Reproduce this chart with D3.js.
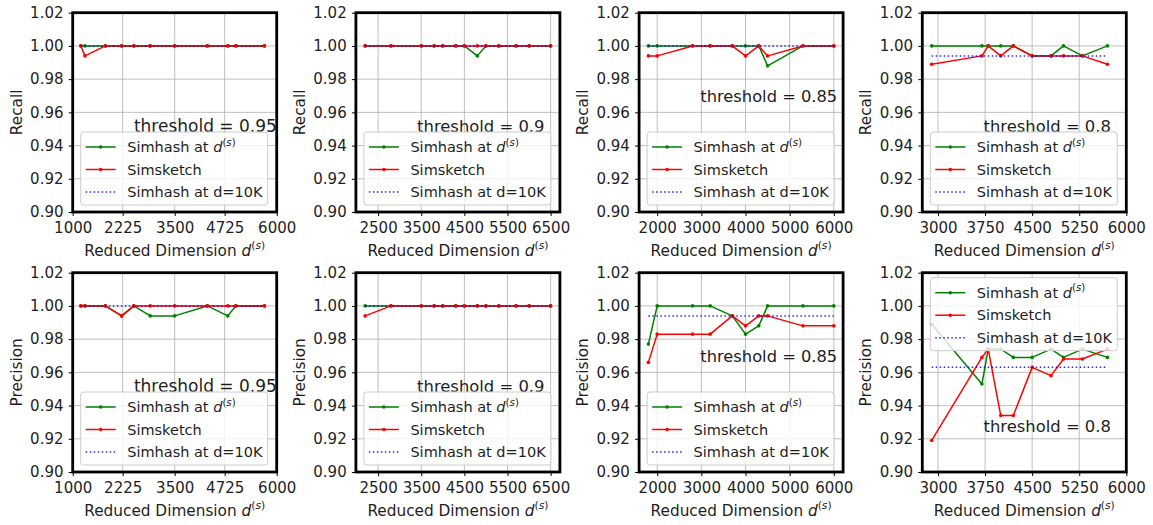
<!DOCTYPE html>
<html>
<head>
<meta charset="utf-8">
<script src="https://cdn.jsdelivr.net/npm/d3@7"></script>
<style>
  html, body { margin: 0; padding: 0; background: #ffffff; }
  svg { display: block; font-family: "DejaVu Sans", "Liberation Sans", sans-serif; }
</style>
</head>
<body>
<svg id="chart" width="1153" height="525"></svg>
<script>
// ---- reduced dimensions d^(s) evaluated for each threshold ----
const dims95 = [1200, 1300, 1800, 2200, 2500, 2900, 3500, 4300, 4800, 5000, 5700];
const dims90 = [2200, 2800, 3500, 3800, 4000, 4300, 4500, 4800, 5000, 5300, 5700, 6000, 6500];
const dims85 = [1800, 2000, 2800, 3200, 3700, 4000, 4300, 4500, 5300, 6000];
const dims80 = [2900, 3700, 3800, 4000, 4200, 4500, 4800, 5000, 5300, 5700];

// ---- recall ----
const recallSimhash95   = [1, 1, 1, 1, 1, 1, 1, 1, 1, 1, 1];
const recallSimsketch95 = [1, 0.994, 1, 1, 1, 1, 1, 1, 1, 1, 1];
const recallFull95 = 1.0;

const recallSimhash90   = [1, 1, 1, 1, 1, 1, 1, 0.994, 1, 1, 1, 1, 1];
const recallSimsketch90 = [1, 1, 1, 1, 1, 1, 1, 1, 1, 1, 1, 1, 1];
const recallFull90 = 1.0;

const recallSimhash85   = [1, 1, 1, 1, 1, 1, 1, 0.988, 1, 1];
const recallSimsketch85 = [0.994, 0.994, 1, 1, 1, 0.994, 1, 0.994, 1, 1];
const recallFull85 = 1.0;

const recallSimhash80   = [1, 1, 1, 1, 1, 0.994, 0.994, 1, 0.994, 1];
const recallSimsketch80 = [0.989, 0.994, 1, 0.994, 1, 0.994, 0.994, 0.994, 0.994, 0.989];
const recallFull80 = 0.994;

// ---- precision ----
const precisionSimhash95   = [1, 1, 1, 0.994, 1, 0.994, 0.994, 1, 0.994, 1, 1];
const precisionSimsketch95 = [1, 1, 1, 0.994, 1, 1, 1, 1, 1, 1, 1];
const precisionFull95 = 1.0;

const precisionSimhash90   = [1, 1, 1, 1, 1, 1, 1, 1, 1, 1, 1, 1, 1];
const precisionSimsketch90 = [0.994, 1, 1, 1, 1, 1, 1, 1, 1, 1, 1, 1, 1];
const precisionFull90 = 1.0;

const precisionSimhash85   = [0.977, 1, 1, 1, 0.994, 0.983, 0.988, 1, 1, 1];
const precisionSimsketch85 = [0.966, 0.983, 0.983, 0.983, 0.994, 0.988, 0.994, 0.994, 0.988, 0.988];
const precisionFull85 = 0.994;

const precisionSimhash80   = [0.989, 0.953, 0.974, 0.974, 0.969, 0.969, 0.974, 0.969, 0.974, 0.969];
const precisionSimsketch80 = [0.919, 0.969, 0.974, 0.934, 0.934, 0.963, 0.958, 0.968, 0.968, 0.974];
const precisionFull80 = 0.963;

// ---- axis limits and tick labels ----
const xLimits95 = [1000, 6000];
const xLimits90 = [1985, 6715];
const xLimits85 = [1590, 6210];
const xLimits80 = [2750, 6000];

const xTicks95 = [1000, 2225, 3500, 4725, 6000];
const xTicks90 = [2500, 3500, 4500, 5500, 6500];
const xTicks85 = [2000, 3000, 4000, 5000, 6000];
const xTicks80 = [3000, 3750, 4500, 5250, 6000];

const yLimits = [0.90, 1.02];
const yTicks = [0.90, 0.92, 0.94, 0.96, 0.98, 1.00, 1.02];

const thresholds = ["0.95", "0.9", "0.85", "0.8"];
const metricNames = ["Recall", "Precision"];
const seriesNames = ["Simhash at ", "Simsketch", "Simhash at d=10K"];

// ---- panel list (row = metric, col = threshold) ----
const panels = [
  { row: 0, col: 0, dims: dims95, simhash: recallSimhash95, sketch: recallSimsketch95, full: recallFull95, xLim: xLimits95, xTicks: xTicks95, textY: 0.40, legend: "lower" },
  { row: 0, col: 1, dims: dims90, simhash: recallSimhash90, sketch: recallSimsketch90, full: recallFull90, xLim: xLimits90, xTicks: xTicks90, textY: 0.40, legend: "lower" },
  { row: 0, col: 2, dims: dims85, simhash: recallSimhash85, sketch: recallSimsketch85, full: recallFull85, xLim: xLimits85, xTicks: xTicks85, textY: 0.55, legend: "lower" },
  { row: 0, col: 3, dims: dims80, simhash: recallSimhash80, sketch: recallSimsketch80, full: recallFull80, xLim: xLimits80, xTicks: xTicks80, textY: 0.40, legend: "lower" },
  { row: 1, col: 0, dims: dims95, simhash: precisionSimhash95, sketch: precisionSimsketch95, full: precisionFull95, xLim: xLimits95, xTicks: xTicks95, textY: 0.40, legend: "lower" },
  { row: 1, col: 1, dims: dims90, simhash: precisionSimhash90, sketch: precisionSimsketch90, full: precisionFull90, xLim: xLimits90, xTicks: xTicks90, textY: 0.40, legend: "lower" },
  { row: 1, col: 2, dims: dims85, simhash: precisionSimhash85, sketch: precisionSimsketch85, full: precisionFull85, xLim: xLimits85, xTicks: xTicks85, textY: 0.55, legend: "lower" },
  { row: 1, col: 3, dims: dims80, simhash: precisionSimhash80, sketch: precisionSimsketch80, full: precisionFull80, xLim: xLimits80, xTicks: xTicks80, textY: 0.20, legend: "upper" }
];

// ---- layout ----
const AX_W = 204, AX_H = 199.3;
const colLeft = c => 72.7 + c * 283.2;
const rowTop = r => 12.7 + r * 260;
const annotSize = [17, 16.4, 16.3, 16.4];

const COLORS = { simhash: "#008000", sketch: "#ff0000", full: "#0000ff" };
const TEXT = "#1e1e1e";
const GRID = "#b0b0b0";

const svg = d3.select("#chart");

panels.forEach(p => {
  const g = svg.append("g")
    .attr("transform", `translate(${colLeft(p.col)},${rowTop(p.row)})`);

  const x = d3.scaleLinear().domain(p.xLim).range([0, AX_W]);
  const y = d3.scaleLinear().domain(yLimits).range([AX_H, 0]);

  // grid
  const grid = g.append("g").attr("stroke", GRID).attr("stroke-width", 0.8);
  grid.selectAll("line.gx").data(p.xTicks).join("line").attr("class", "gx")
    .attr("x1", d => x(d)).attr("x2", d => x(d)).attr("y1", 0).attr("y2", AX_H);
  grid.selectAll("line.gy").data(yTicks).join("line").attr("class", "gy")
    .attr("x1", 0).attr("x2", AX_W).attr("y1", d => y(d)).attr("y2", d => y(d));

  // axes (ticks + labels)
  const xAxis = d3.axisBottom(x).tickValues(p.xTicks).tickFormat(d3.format("d"))
    .tickSize(4).tickPadding(6.3);
  const yAxis = d3.axisLeft(y).tickValues(yTicks).tickFormat(d3.format(".2f"))
    .tickSize(4).tickPadding(5.2);

  const gx = g.append("g").attr("transform", `translate(0,${AX_H})`).call(xAxis);
  const gy = g.append("g").call(yAxis);
  [gx, gy].forEach(a => {
    a.select(".domain").remove();
    a.selectAll(".tick line").attr("stroke", "#000").attr("stroke-width", 1);
    a.selectAll(".tick text").attr("fill", TEXT).attr("font-size", 15)
      .attr("font-family", "DejaVu Sans, sans-serif");
  });

  // x label
  const xl = g.append("text")
    .attr("x", AX_W / 2).attr("y", AX_H + 44)
    .attr("text-anchor", "middle").attr("fill", TEXT).attr("font-size", 15.3);
  xl.append("tspan").text("Reduced Dimension ");
  xl.append("tspan").attr("font-style", "italic").text("d");
  xl.append("tspan").attr("font-size", 10.7).attr("dy", -7).text("(");
  xl.append("tspan").attr("font-size", 10.7).attr("font-style", "italic").text("s");
  xl.append("tspan").attr("font-size", 10.7).text(")");

  // y label
  g.append("text")
    .attr("transform", `translate(-51,${AX_H / 2}) rotate(-90)`)
    .attr("text-anchor", "middle").attr("fill", TEXT).attr("font-size", 15.3)
    .text(metricNames[p.row]);

  // series
  const line = d3.line().x(d => x(d[0])).y(d => y(d[1]));
  const series = [
    { vals: p.simhash, color: COLORS.simhash },
    { vals: p.sketch, color: COLORS.sketch }
  ];
  series.forEach(s => {
    const pts = p.dims.map((d, i) => [d, s.vals[i]]);
    g.append("path").datum(pts)
      .attr("d", line).attr("fill", "none")
      .attr("stroke", s.color).attr("stroke-width", 1.5)
      .attr("stroke-linejoin", "round");
    g.append("g").selectAll("circle").data(pts).join("circle")
      .attr("cx", d => x(d[0])).attr("cy", d => y(d[1])).attr("r", 1.8)
      .attr("fill", s.color);
  });

  // full-dimension simhash baseline (dotted)
  const fullPts = [[p.dims[0], p.full], [p.dims[p.dims.length - 1], p.full]];
  g.append("path").datum(fullPts)
    .attr("d", line).attr("fill", "none")
    .attr("stroke", COLORS.full).attr("stroke-width", 1.5)
    .attr("stroke-dasharray", "1.5,2.5").attr("opacity", 0.85);

  // threshold annotation
  g.append("text")
    .attr("x", AX_W * 0.3).attr("y", AX_H * (1 - p.textY))
    .attr("fill", TEXT).attr("font-size", annotSize[p.col])
    .text("threshold = " + thresholds[p.col]);

  // legend
  const LW = 187, LH = 73;
  const lx = AX_W - 9 - LW;
  const ly = p.legend === "upper" ? 5 : AX_H - 7 - LH;
  const lg = g.append("g").attr("transform", `translate(${lx},${ly})`);
  lg.append("rect").attr("width", LW).attr("height", LH).attr("rx", 3)
    .attr("fill", "#ffffff").attr("fill-opacity", 0.8)
    .attr("stroke", "#cccccc").attr("stroke-width", 1);

  const rows = [
    { color: COLORS.simhash, dotted: false, label: seriesNames[0], sup: true },
    { color: COLORS.sketch, dotted: false, label: seriesNames[1], sup: false },
    { color: COLORS.full, dotted: true, label: seriesNames[2], sup: false }
  ];
  rows.forEach((r, i) => {
    const cy = 15 + i * 22.5;
    const ln = lg.append("line").attr("x1", 5).attr("x2", 35).attr("y1", cy).attr("y2", cy)
      .attr("stroke", r.color).attr("stroke-width", 1.5);
    if (r.dotted) {
      ln.attr("stroke-dasharray", "1.5,2.5").attr("opacity", 0.85);
    } else {
      lg.append("circle").attr("cx", 20).attr("cy", cy).attr("r", 1.8).attr("fill", r.color);
    }
    const t = lg.append("text").attr("x", 46.5).attr("y", cy).attr("dy", "0.36em")
      .attr("fill", TEXT).attr("font-size", 14.5);
    t.append("tspan").text(r.label);
    if (r.sup) {
      t.append("tspan").attr("font-style", "italic").text("d");
      t.append("tspan").attr("font-size", 10.2).attr("dy", -6.5).text("(");
      t.append("tspan").attr("font-size", 10.2).attr("font-style", "italic").text("s");
      t.append("tspan").attr("font-size", 10.2).text(")");
    }
  });

  // thick frame
  g.append("rect").attr("width", AX_W).attr("height", AX_H)
    .attr("fill", "none").attr("stroke", "#000").attr("stroke-width", 2.8);
});
</script>
</body>
</html>
